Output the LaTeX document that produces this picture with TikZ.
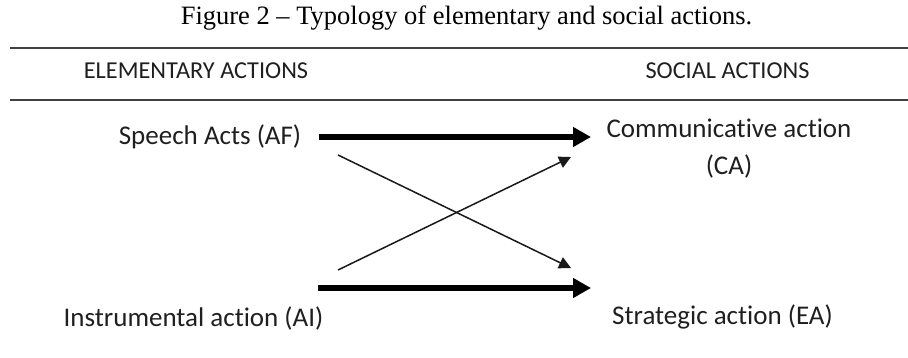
\documentclass[tikz,border=0pt]{standalone}
\usepackage{fontspec}
\setmainfont[Ligatures=CommonOff]{Carlito}
\newfontfamily\titlefont{Liberation Serif}
\usetikzlibrary{arrows.meta,calc}
\tikzset{
  lbl/.style={inner sep=0pt, font=\fontsize{27}{37}\selectfont, text=black!88},
  hdr/.style={inner sep=0pt, font=\fontsize{24.3}{30}\selectfont, text=black!88},
  bigarrow/.style={line width=6pt, -{Triangle[length=18pt,width=19pt]}},
  thinarrow/.style={line width=1.5pt, black!90, -{Triangle[length=12pt,width=12pt]}},
  rulestyle/.style={line width=2.5pt, black!75}
}
\begin{document}
\begin{tikzpicture}[x=1pt,y=-1pt]
\useasboundingbox (0,0) rectangle (908,358);
\node[inner sep=0pt, font=\titlefont\fontsize{26.5}{30}\selectfont] (title) at (466.5,18) {Figure 2 – Typology of elementary and social actions.};
\coordinate (r1l) at (10,48);
\coordinate (r1r) at (908,48);
\coordinate (r2l) at (10,100);
\coordinate (r2r) at (908,100);
\draw[rulestyle] (r1l) -- (r1r);
\draw[rulestyle] (r2l) -- (r2r);
\node[hdr] (ela) at (196,71) {ELEMENTARY ACTIONS};
\node[hdr] (soa) at (727.5,71) {SOCIAL ACTIONS};
\node[lbl] (sa) at (210,137) {Speech Acts (AF)};
\node[lbl, align=center] (ca) at (729,148.5) {Communicative action\\(CA)};
\node[lbl] (ia) at (193.5,318) {Instrumental action (AI)};
\node[lbl] (ea) at (722.5,317) {Strategic action (EA)};
\coordinate (t1s) at (338,155);
\coordinate (t1e) at (571,268);
\coordinate (t2s) at (338,270);
\coordinate (t2e) at (571,157);
\draw[bigarrow] ([xshift=18pt]sa.east) -- (591,137);
\draw[bigarrow] (318,288) -- (591,288);
\draw[thinarrow] (t1s) -- (t1e);
\draw[thinarrow] (t2s) -- (t2e);
\end{tikzpicture}
\end{document}
